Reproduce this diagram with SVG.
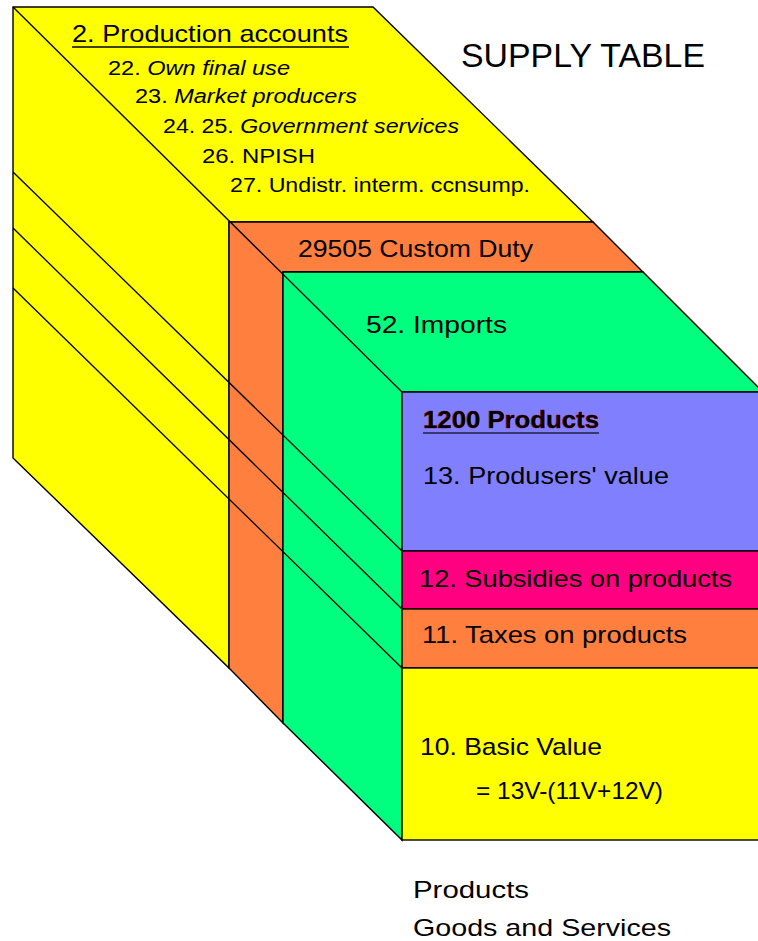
<svg xmlns="http://www.w3.org/2000/svg" width="758" height="941" viewBox="0 0 758 941">
<style>
.e{stroke:#000;stroke-width:1.4;stroke-linejoin:miter}
.ln{stroke:#000;stroke-width:1.3;fill:none}
.t{font-family:"Liberation Sans","DejaVu Sans",sans-serif;fill:#000}
.m{font-size:24px}
.s{font-size:20px}
.i{font-style:italic}
</style>
<rect width="758" height="941" fill="#fff"/>
<g id="production-accounts">
<polygon class="e" fill="#FFFF00" points="13,7 373,7 593,222 229,222 229,668 13,458"/>
</g>
<g id="custom-duty">
<polygon class="e" fill="#FF7F3F" points="229,222 593,222 643,272 283,272 283,723 229,668"/>
</g>
<g id="imports">
<polygon class="e" fill="#00FF7F" points="283,272 643,272 763,392 402,392 402,840 283,723"/>
</g>
<g id="products">
<rect class="e" fill="#8080FF" x="402" y="392" width="362" height="159"/>
</g>
<g id="subsidies">
<rect class="e" fill="#FF0080" x="402" y="551" width="362" height="58"/>
</g>
<g id="taxes">
<rect class="e" fill="#FF7F3F" x="402" y="609" width="362" height="59"/>
</g>
<g id="basic-value">
<rect class="e" fill="#FFFF00" x="402" y="668" width="362" height="172"/>
</g>
<g id="connectors">
<line class="ln" x1="13" y1="7" x2="402" y2="392"/>
<line class="ln" x1="13" y1="172" x2="402" y2="551"/>
<line class="ln" x1="13" y1="228" x2="402" y2="609"/>
<line class="ln" x1="13" y1="288" x2="402" y2="668"/>
</g>
<g id="labels">
<text class="t m" x="72" y="42" textLength="276" lengthAdjust="spacingAndGlyphs">2. Production accounts</text>
<line x1="72" y1="47" x2="349" y2="47" stroke="#000" stroke-width="1.6"/>
<text class="t s" x="108" y="75" textLength="182" lengthAdjust="spacingAndGlyphs">22. <tspan class="i">Own final use</tspan></text>
<text class="t s" x="135" y="103" textLength="222" lengthAdjust="spacingAndGlyphs">23. <tspan class="i">Market producers</tspan></text>
<text class="t s" x="163" y="133" textLength="296" lengthAdjust="spacingAndGlyphs">24. 25. <tspan class="i">Government services</tspan></text>
<text class="t s" x="202" y="163" textLength="113" lengthAdjust="spacingAndGlyphs">26. NPISH</text>
<text class="t s" x="230" y="192" textLength="300" lengthAdjust="spacingAndGlyphs">27. Undistr. interm. ccnsump.</text>
<text class="t" x="461" y="67" font-size="33" textLength="244" lengthAdjust="spacingAndGlyphs">SUPPLY TABLE</text>
<text class="t m" x="298" y="257" textLength="235" lengthAdjust="spacingAndGlyphs">29505 Custom Duty</text>
<text class="t m" x="366" y="333" textLength="141" lengthAdjust="spacingAndGlyphs">52. Imports</text>
<text class="t m" x="423" y="428" font-weight="bold" fill="#200000" stroke="#C00000" stroke-width="0.6" paint-order="stroke" textLength="176" lengthAdjust="spacingAndGlyphs">1200 Products</text>
<line x1="423" y1="433" x2="599" y2="433" stroke="#202040" stroke-width="1.6"/>
<text class="t m" x="423" y="484" textLength="246" lengthAdjust="spacingAndGlyphs">13. Produsers' value</text>
<text class="t m" x="419" y="587" textLength="313" lengthAdjust="spacingAndGlyphs">12. Subsidies on products</text>
<text class="t m" x="422" y="643" textLength="265" lengthAdjust="spacingAndGlyphs">11. Taxes on products</text>
<text class="t m" x="420" y="755" textLength="182" lengthAdjust="spacingAndGlyphs">10. Basic Value</text>
<text class="t m" x="476" y="799" textLength="187" lengthAdjust="spacingAndGlyphs">= 13V-(11V+12V)</text>
<text class="t m" x="413" y="898" textLength="116" lengthAdjust="spacingAndGlyphs">Products</text>
<text class="t m" x="413" y="936" textLength="258" lengthAdjust="spacingAndGlyphs">Goods and Services</text>
</g>
</svg>
